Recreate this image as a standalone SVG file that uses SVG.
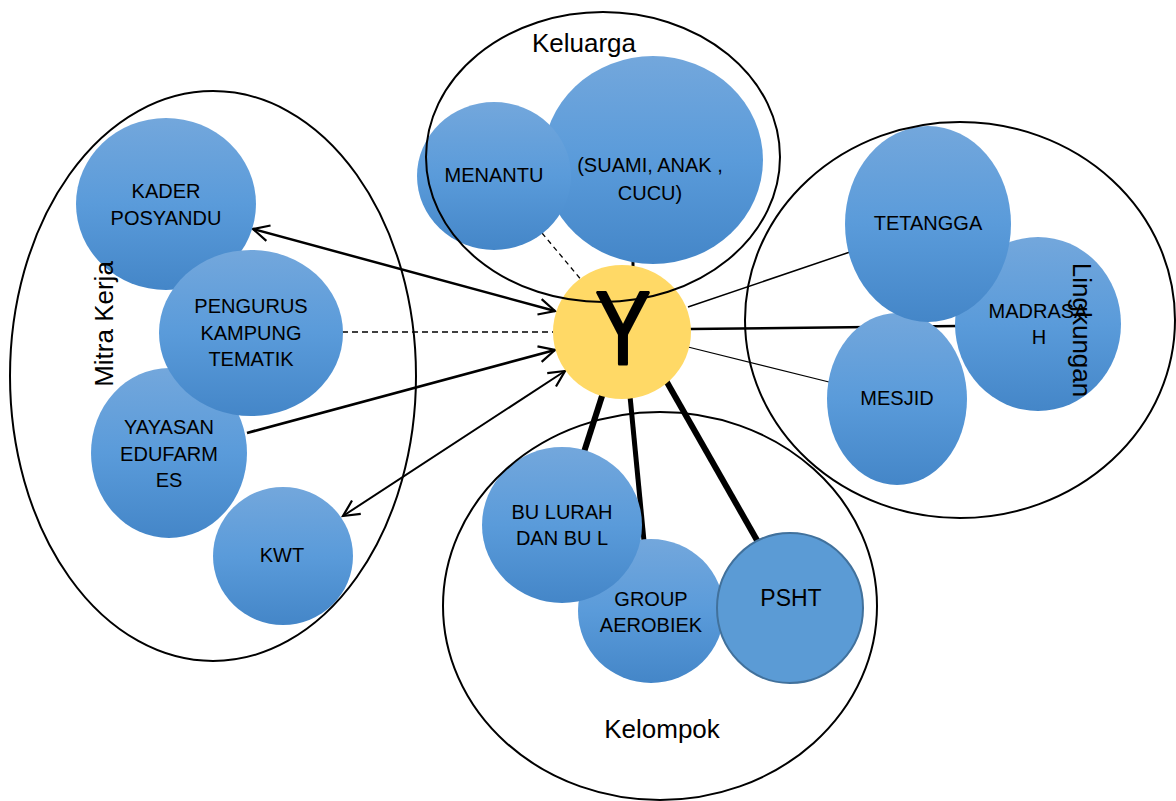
<svg xmlns="http://www.w3.org/2000/svg" width="1176" height="801" viewBox="0 0 1176 801">
<style>
.node{fill:url(#blue)}
.grp{fill:none;stroke:#000;stroke-width:2}
.t{font-family:"Liberation Sans",Arial,sans-serif;font-size:20px;fill:#000;text-anchor:middle}
.lbl{font-family:"Liberation Sans",Arial,sans-serif;font-size:26px;fill:#000;text-anchor:middle}
.c{stroke:#000;fill:none}
</style>
<defs>
<linearGradient id="blue" x1="0" y1="0" x2="0" y2="1">
<stop offset="0" stop-color="#73a7dc"/>
<stop offset="0.5" stop-color="#5a9bda"/>
<stop offset="1" stop-color="#4486c8"/>
</linearGradient>
<marker id="open" viewBox="-2 -2 20 20" refX="16" refY="8" markerWidth="20" markerHeight="20" markerUnits="userSpaceOnUse" orient="auto-start-reverse" overflow="visible">
<path d="M0,0 L16,8 L0,16" fill="none" stroke="#000" stroke-width="2.2"/>
</marker>
</defs>
<rect width="1176" height="801" fill="#fff"/>
<g id="connectors">
<line class="c" x1="253" y1="229" x2="555" y2="311" stroke-width="2.5" marker-start="url(#open)" marker-end="url(#open)"/>
<line class="c" x1="342" y1="332" x2="553" y2="332" stroke-width="1.4" stroke-dasharray="6,4"/>
<line class="c" x1="247" y1="433" x2="555" y2="350" stroke-width="2.8" marker-end="url(#open)"/>
<line class="c" x1="343" y1="516" x2="565" y2="371" stroke-width="2" marker-start="url(#open)" marker-end="url(#open)"/>
<line class="c" x1="542" y1="233" x2="583" y2="282" stroke-width="1.3" stroke-dasharray="5,4"/>
<line class="c" x1="633" y1="255" x2="633" y2="275" stroke-width="3"/>
<line class="c" x1="688" y1="307" x2="850" y2="252" stroke-width="1.5"/>
<line class="c" x1="690" y1="329" x2="958" y2="326" stroke-width="2.5"/>
<line class="c" x1="688" y1="347" x2="829" y2="382" stroke-width="1.2"/>
<line class="c" x1="603" y1="393" x2="584" y2="452" stroke-width="6"/>
<line class="c" x1="630" y1="396" x2="644" y2="541" stroke-width="5"/>
<line class="c" x1="664" y1="377" x2="758" y2="542" stroke-width="6"/>
</g>
<g id="kwt"><ellipse class="node" cx="283" cy="556" rx="70" ry="69"/><text class="t" x="282" y="562">KWT</text></g>
<g id="yayasan"><ellipse class="node" cx="169" cy="453" rx="78" ry="85"/><text class="t" x="169" y="434">YAYASAN</text><text class="t" x="169" y="461">EDUFARM</text><text class="t" x="169" y="487">ES</text></g>
<g id="kader"><ellipse class="node" cx="166" cy="204" rx="90" ry="86"/><text class="t" x="166" y="198">KADER</text><text class="t" x="166" y="225">POSYANDU</text></g>
<g id="pengurus"><ellipse class="node" cx="251" cy="333" rx="92" ry="83"/><text class="t" x="251" y="313">PENGURUS</text><text class="t" x="251" y="340">KAMPUNG</text><text class="t" x="251" y="366">TEMATIK</text></g>
<g id="suami"><ellipse class="node" cx="653" cy="160" rx="110" ry="104"/><text class="t" x="650" y="172">(SUAMI, ANAK ,</text><text class="t" x="650" y="200">CUCU)</text></g>
<g id="menantu"><ellipse class="node" cx="494" cy="176" rx="77" ry="74"/><text class="t" x="494" y="182">MENANTU</text></g>
<g id="madrasah"><ellipse class="node" cx="1038" cy="324" rx="83" ry="87"/><text class="t" x="1038" y="318">MADRASA</text><text class="t" x="1039" y="344">H</text></g>
<g id="mesjid"><ellipse class="node" cx="897" cy="399" rx="70" ry="86"/><text class="t" x="897" y="405">MESJID</text></g>
<g id="tetangga"><ellipse class="node" cx="928" cy="224" rx="83" ry="98"/><text class="t" x="928" y="230">TETANGGA</text></g>
<g id="group"><ellipse class="node" cx="651" cy="611" rx="73" ry="72"/><text class="t" x="651" y="606">GROUP</text><text class="t" x="651" y="632">AEROBIEK</text></g>
<g id="bulurah"><ellipse class="node" cx="562" cy="525" rx="80" ry="78"/><text class="t" x="562" y="519">BU LURAH</text><text class="t" x="562" y="545">DAN BU L</text></g>
<g id="psht"><ellipse cx="790" cy="608" rx="73" ry="75" fill="#5b9bd5" stroke="#41719c" stroke-width="2"/><text class="t" x="791" y="606" style="font-size:23px">PSHT</text></g>
<g id="y"><ellipse cx="622" cy="332" rx="69" ry="67" fill="#ffd966"/><text transform="translate(623,364) scale(0.8,1)" class="t" style="font-size:103px;stroke:#000;stroke-width:3;stroke-linejoin:round">Y</text></g>
<g id="groups">
<ellipse class="grp" cx="213" cy="376" rx="203" ry="285"/>
<ellipse class="grp" cx="603" cy="157" rx="177" ry="145"/>
<ellipse class="grp" cx="960" cy="320" rx="215" ry="198"/>
<ellipse class="grp" cx="660" cy="606" rx="217" ry="194"/>
<text class="lbl" x="584" y="52">Keluarga</text>
<text class="lbl" x="662" y="738">Kelompok</text>
<text class="lbl" transform="translate(113,324) rotate(-90)">Mitra Kerja</text>
<text class="lbl" transform="translate(1073,330) rotate(90)">Lingkungan</text>
</g>
</svg>
